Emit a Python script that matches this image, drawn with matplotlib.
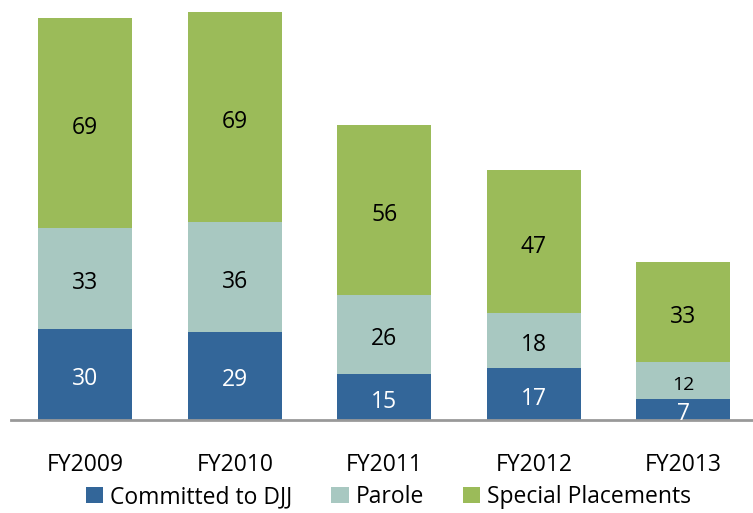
import numpy as np
import matplotlib.pyplot as plt

years = ['FY2009', 'FY2010', 'FY2011', 'FY2012', 'FY2013']
committed = [30, 29, 15, 17, 7]
parole = [33, 36, 26, 18, 12]
special = [69, 69, 56, 47, 33]

c_blue = '#336699'
c_parole = '#A8C8C1'
c_green = '#9BBB59'

plt.rcParams['font.family'] = ['Open Sans', 'DejaVu Sans']

fig = plt.figure(figsize=(7.53, 5.13), dpi=100)
ax = fig.add_axes([0.015, 93 / 513, 0.985, 420 / 513])

x = np.arange(len(years))
w = 0.63
b1 = ax.bar(x, committed, w, color=c_blue, label='Committed to DJJ')
b2 = ax.bar(x, parole, w, bottom=committed, color=c_parole, label='Parole')
bottom3 = np.array(committed) + np.array(parole)
b3 = ax.bar(x, special, w, bottom=bottom3, color=c_green, label='Special Placements')

# labels sit a little below the segment centre
off = 1.5
for i in range(len(years)):
    ax.text(x[i], committed[i] / 2 - off, str(committed[i]), ha='center', va='center',
            color='white', fontsize=16.5)
    fs = 14 if parole[i] < 15 else 16.5
    ax.text(x[i], committed[i] + parole[i] / 2 - off, str(parole[i]), ha='center', va='center',
            color='black', fontsize=fs)
    ax.text(x[i], bottom3[i] + special[i] / 2 - off, str(special[i]), ha='center', va='center',
            color='black', fontsize=16.5)

ax.set_xlim(-0.495, 4.466)
ax.set_ylim(0, 138)
ax.set_xticks(x)
ax.set_xticklabels(years, fontsize=16.5)
ax.tick_params(axis='x', length=0, pad=24)
ax.set_yticks([])
for s in ['top', 'right', 'left']:
    ax.spines[s].set_visible(False)
ax.spines['bottom'].set_color('#999999')
ax.spines['bottom'].set_linewidth(2)

fig.legend(handles=[b1, b2, b3], loc='center', bbox_to_anchor=(0.516, 16 / 513),
           ncol=3, frameon=False, fontsize=16.5, handlelength=0.75, handleheight=0.75,
           handletextpad=0.3, columnspacing=1.7, borderpad=0)

fig.savefig('out.png', dpi=100)
